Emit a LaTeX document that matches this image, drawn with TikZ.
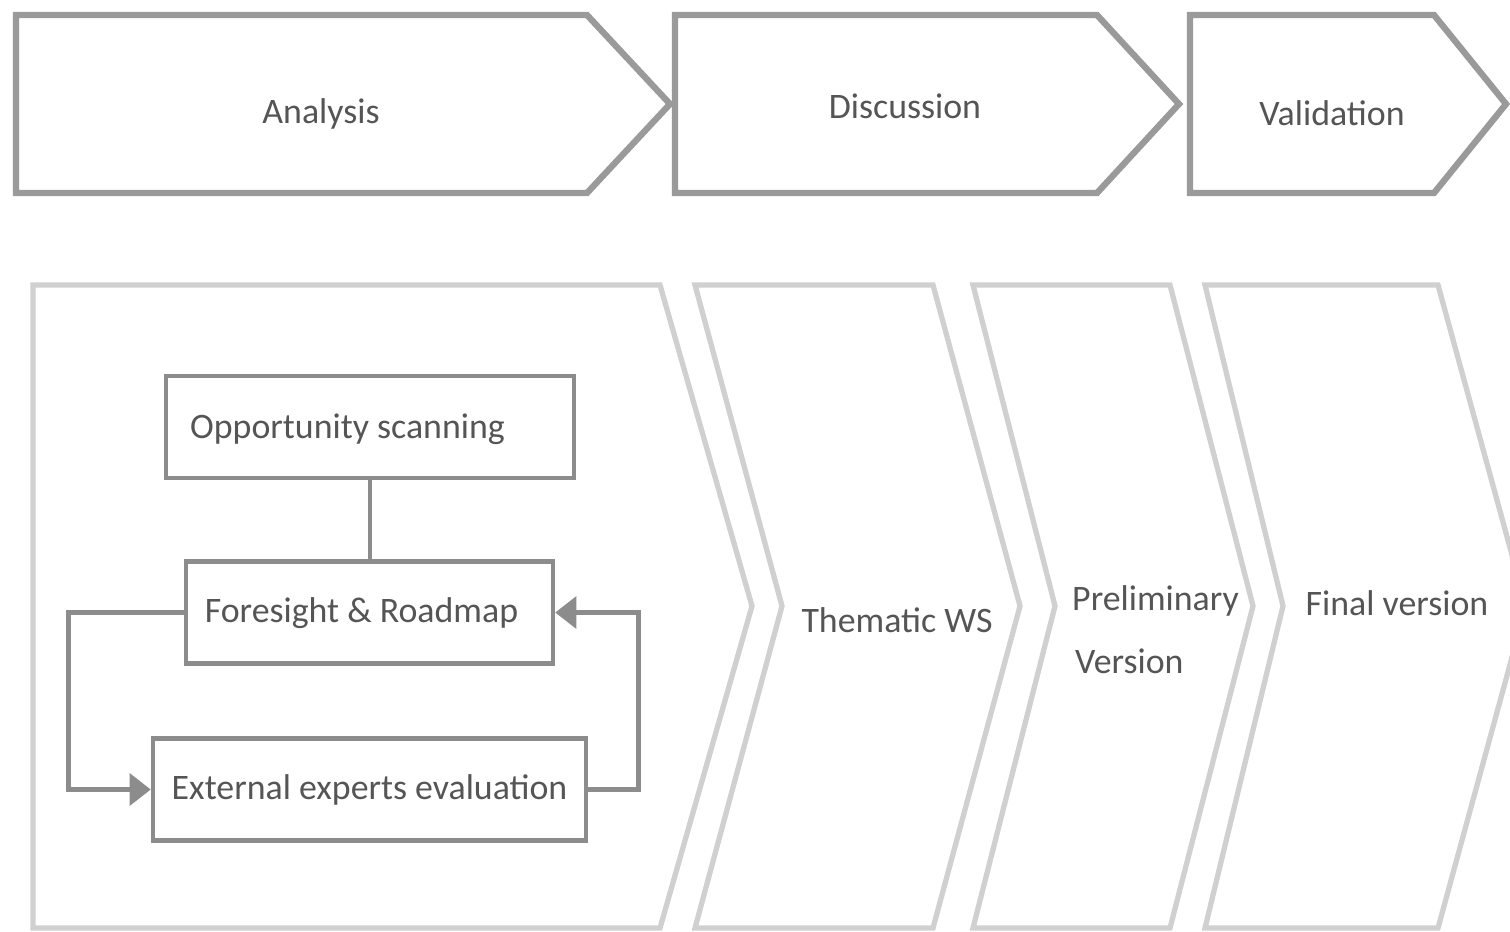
\documentclass[tikz,border=0pt]{standalone}
\usepackage{fontspec}
\setmainfont{Carlito}
\usetikzlibrary{arrows.meta,positioning}
\definecolor{textgray}{HTML}{555555}
\definecolor{phasegray}{HTML}{9A9A9A}
\definecolor{stagegray}{HTML}{D0D0D0}
\definecolor{boxgray}{HTML}{8C8C8C}

\begin{document}
\begin{tikzpicture}[x=0.02cm, y=-0.02cm,
  phase/.style={draw=phasegray, line width=3.6pt},
  stage/.style={draw=stagegray, line width=3pt},
  lbl/.style={font=\fontsize{20.4}{24}\selectfont, text=textgray, anchor=base},
  procbox/.style={draw=boxgray, line width=2.6pt, minimum height=2.04cm, inner sep=0pt,
                  text depth=0.3em, font=\fontsize{20.4}{24}\selectfont, text=textgray},
  link/.style={draw=boxgray, line width=2.6pt},
  feedback/.style={link, -{Triangle[length=12pt, width=18pt]}}]
\useasboundingbox (0,0) rectangle (1510,931);
\fill[white] (0,0) rectangle (1510,931);
\clip (0,0) rectangle (1510,931);
% phases
\draw[phase] (16,15) -- (587,15) -- (670,104) -- (587,193) -- (16,193) -- cycle;
\draw[phase] (675,15) -- (1097,15) -- (1179,104) -- (1097,193) -- (675,193) -- cycle;
\draw[phase] (1190,15) -- (1434,15) -- (1506,104) -- (1434,193) -- (1190,193) -- cycle;
\node[lbl] (ana) at (321,123) {Analysis};
\node[lbl] (dis) at (905,118) {Discussion};
\node[lbl] (val) at (1332,125) {Validation};
% stages
\draw[stage] (33,285) -- (660,285) -- (752,606) -- (660,928) -- (33,928) -- cycle;
\draw[stage] (695,285) -- (933,285) -- (1020,606) -- (933,928) -- (695,928) -- (782,606) -- cycle;
\draw[stage] (973,285) -- (1170,285) -- (1253,606) -- (1170,928) -- (973,928) -- (1055,606) -- cycle;
\draw[stage] (1205,285) -- (1438,285) -- (1526,606) -- (1438,928) -- (1205,928) -- (1283,606) -- cycle;
\node[lbl] (thm) at (897,632) {Thematic WS};
\node[lbl, anchor=base west] (pre) at (1066,610) {Preliminary};
\node[lbl, anchor=base west] (ver) at (1069,673) {Version};
\node[lbl] (fin) at (1397,615) {Final version};
% analysis loop
\node[procbox, minimum width=8.16cm, text depth=0.1em] (opp) at (370,427) {Opportunity scanning\kern0.9cm};
\node[procbox, minimum width=7.34cm] (fore) at (369.5,612.5) {Foresight \& Roadmap\kern0.32cm};
\node[procbox, minimum width=8.66cm] (ext)  at (369.5,789.5) {External experts evaluation};
\draw[link] (opp.south) -- (opp.south |- fore.north);
\draw[feedback] (fore.west) -- ++(-115,0) |- (ext.west);
\draw[feedback] (ext.east) -- ++(50,0) |- (fore.east);
\end{tikzpicture}
\end{document}
